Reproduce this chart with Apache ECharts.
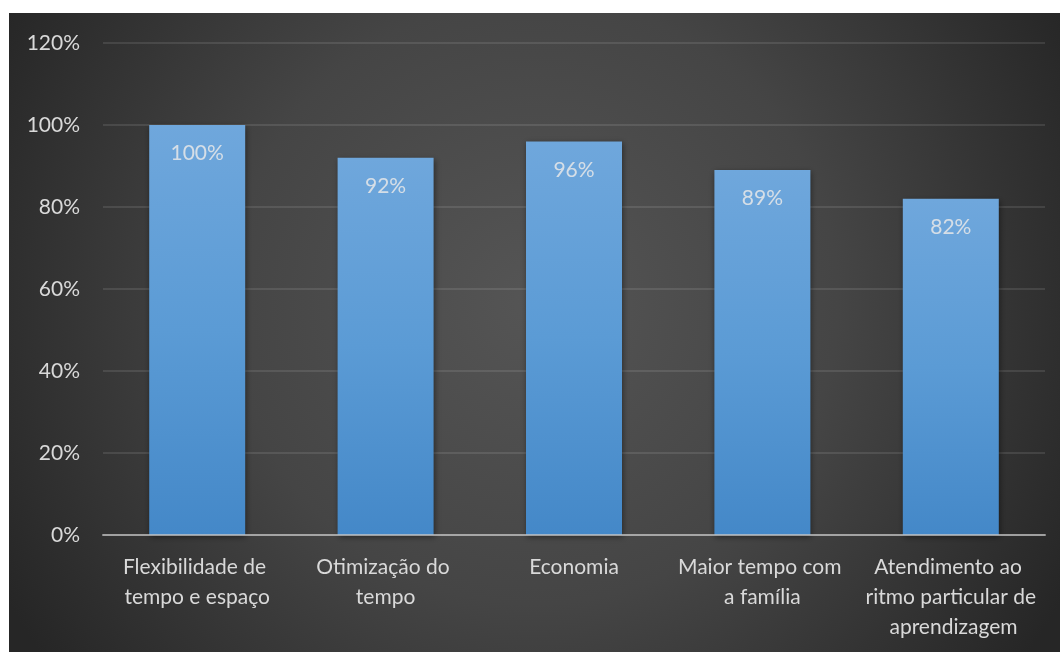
<!DOCTYPE html>
<html>
<head>
<meta charset="utf-8">
<script src="https://cdn.jsdelivr.net/npm/echarts@6/dist/echarts.min.js"></script>
<style>
  html, body { margin: 0; padding: 0; background: #ffffff; width: 1060px; height: 652px; overflow: hidden; }
  #chart { position: absolute; left: 9px; top: 13px; width: 1051px; height: 639px; }
</style>
</head>
<body>
<div id="chart"></div>
<script>
const categories = [
  'Flexibilidade de tempo e espaço',
  'Otimização do tempo',
  'Economia',
  'Maior tempo com a família',
  'Atendimento ao ritmo particular de aprendizagem'
];
const values = [100, 92, 96, 89, 82];
const yTicks = { min: 0, max: 120, interval: 20 };

const FONT = 'Lato';
const chart = echarts.init(document.getElementById('chart'), null, { renderer: 'canvas' });
chart.setOption({
  animation: false,
  backgroundColor: {
    type: 'radial', x: 0.5, y: 0.45, r: 0.95,
    colorStops: [
      { offset: 0, color: '#555555' },
      { offset: 0.5, color: '#454545' },
      { offset: 1, color: '#262626' }
    ]
  },
  grid: { left: 94, right: 15, top: 30, bottom: 117, containLabel: false },
  xAxis: {
    type: 'category',
    data: categories,
    axisLine: { show: true, lineStyle: { color: 'rgba(200,200,200,0.7)', width: 2 } },
    axisTick: { show: false },
    axisLabel: {
      color: '#d9d9d9', fontFamily: FONT, fontSize: 21, lineHeight: 30,
      margin: 17, interval: 0, width: 175, overflow: 'break', align: 'center'
    },
    z: 5
  },
  yAxis: {
    type: 'value',
    min: yTicks.min, max: yTicks.max, interval: yTicks.interval,
    axisLine: { show: false },
    axisTick: { show: false },
    axisLabel: {
      color: '#d9d9d9', fontFamily: FONT, fontSize: 21, margin: 23,
      formatter: v => v + '%'
    },
    splitLine: { lineStyle: { color: 'rgba(255,255,255,0.1)', width: 2 } }
  },
  series: [{
    type: 'bar',
    data: values,
    barWidth: 96,
    itemStyle: {
      color: {
        type: 'linear', x: 0, y: 0, x2: 0, y2: 1,
        colorStops: [
          { offset: 0, color: '#6fa7dc' },
          { offset: 0.5, color: '#5b9bd5' },
          { offset: 1, color: '#4488c8' }
        ]
      },
      shadowColor: 'rgba(0,0,0,0.45)', shadowBlur: 6, shadowOffsetX: 1, shadowOffsetY: 2
    },
    label: {
      show: true, position: 'insideTop', distance: 18,
      color: 'rgba(225,228,232,0.9)', fontFamily: FONT, fontSize: 21,
      formatter: p => p.value + '%'
    }
  }]
});
</script>
</body>
</html>
